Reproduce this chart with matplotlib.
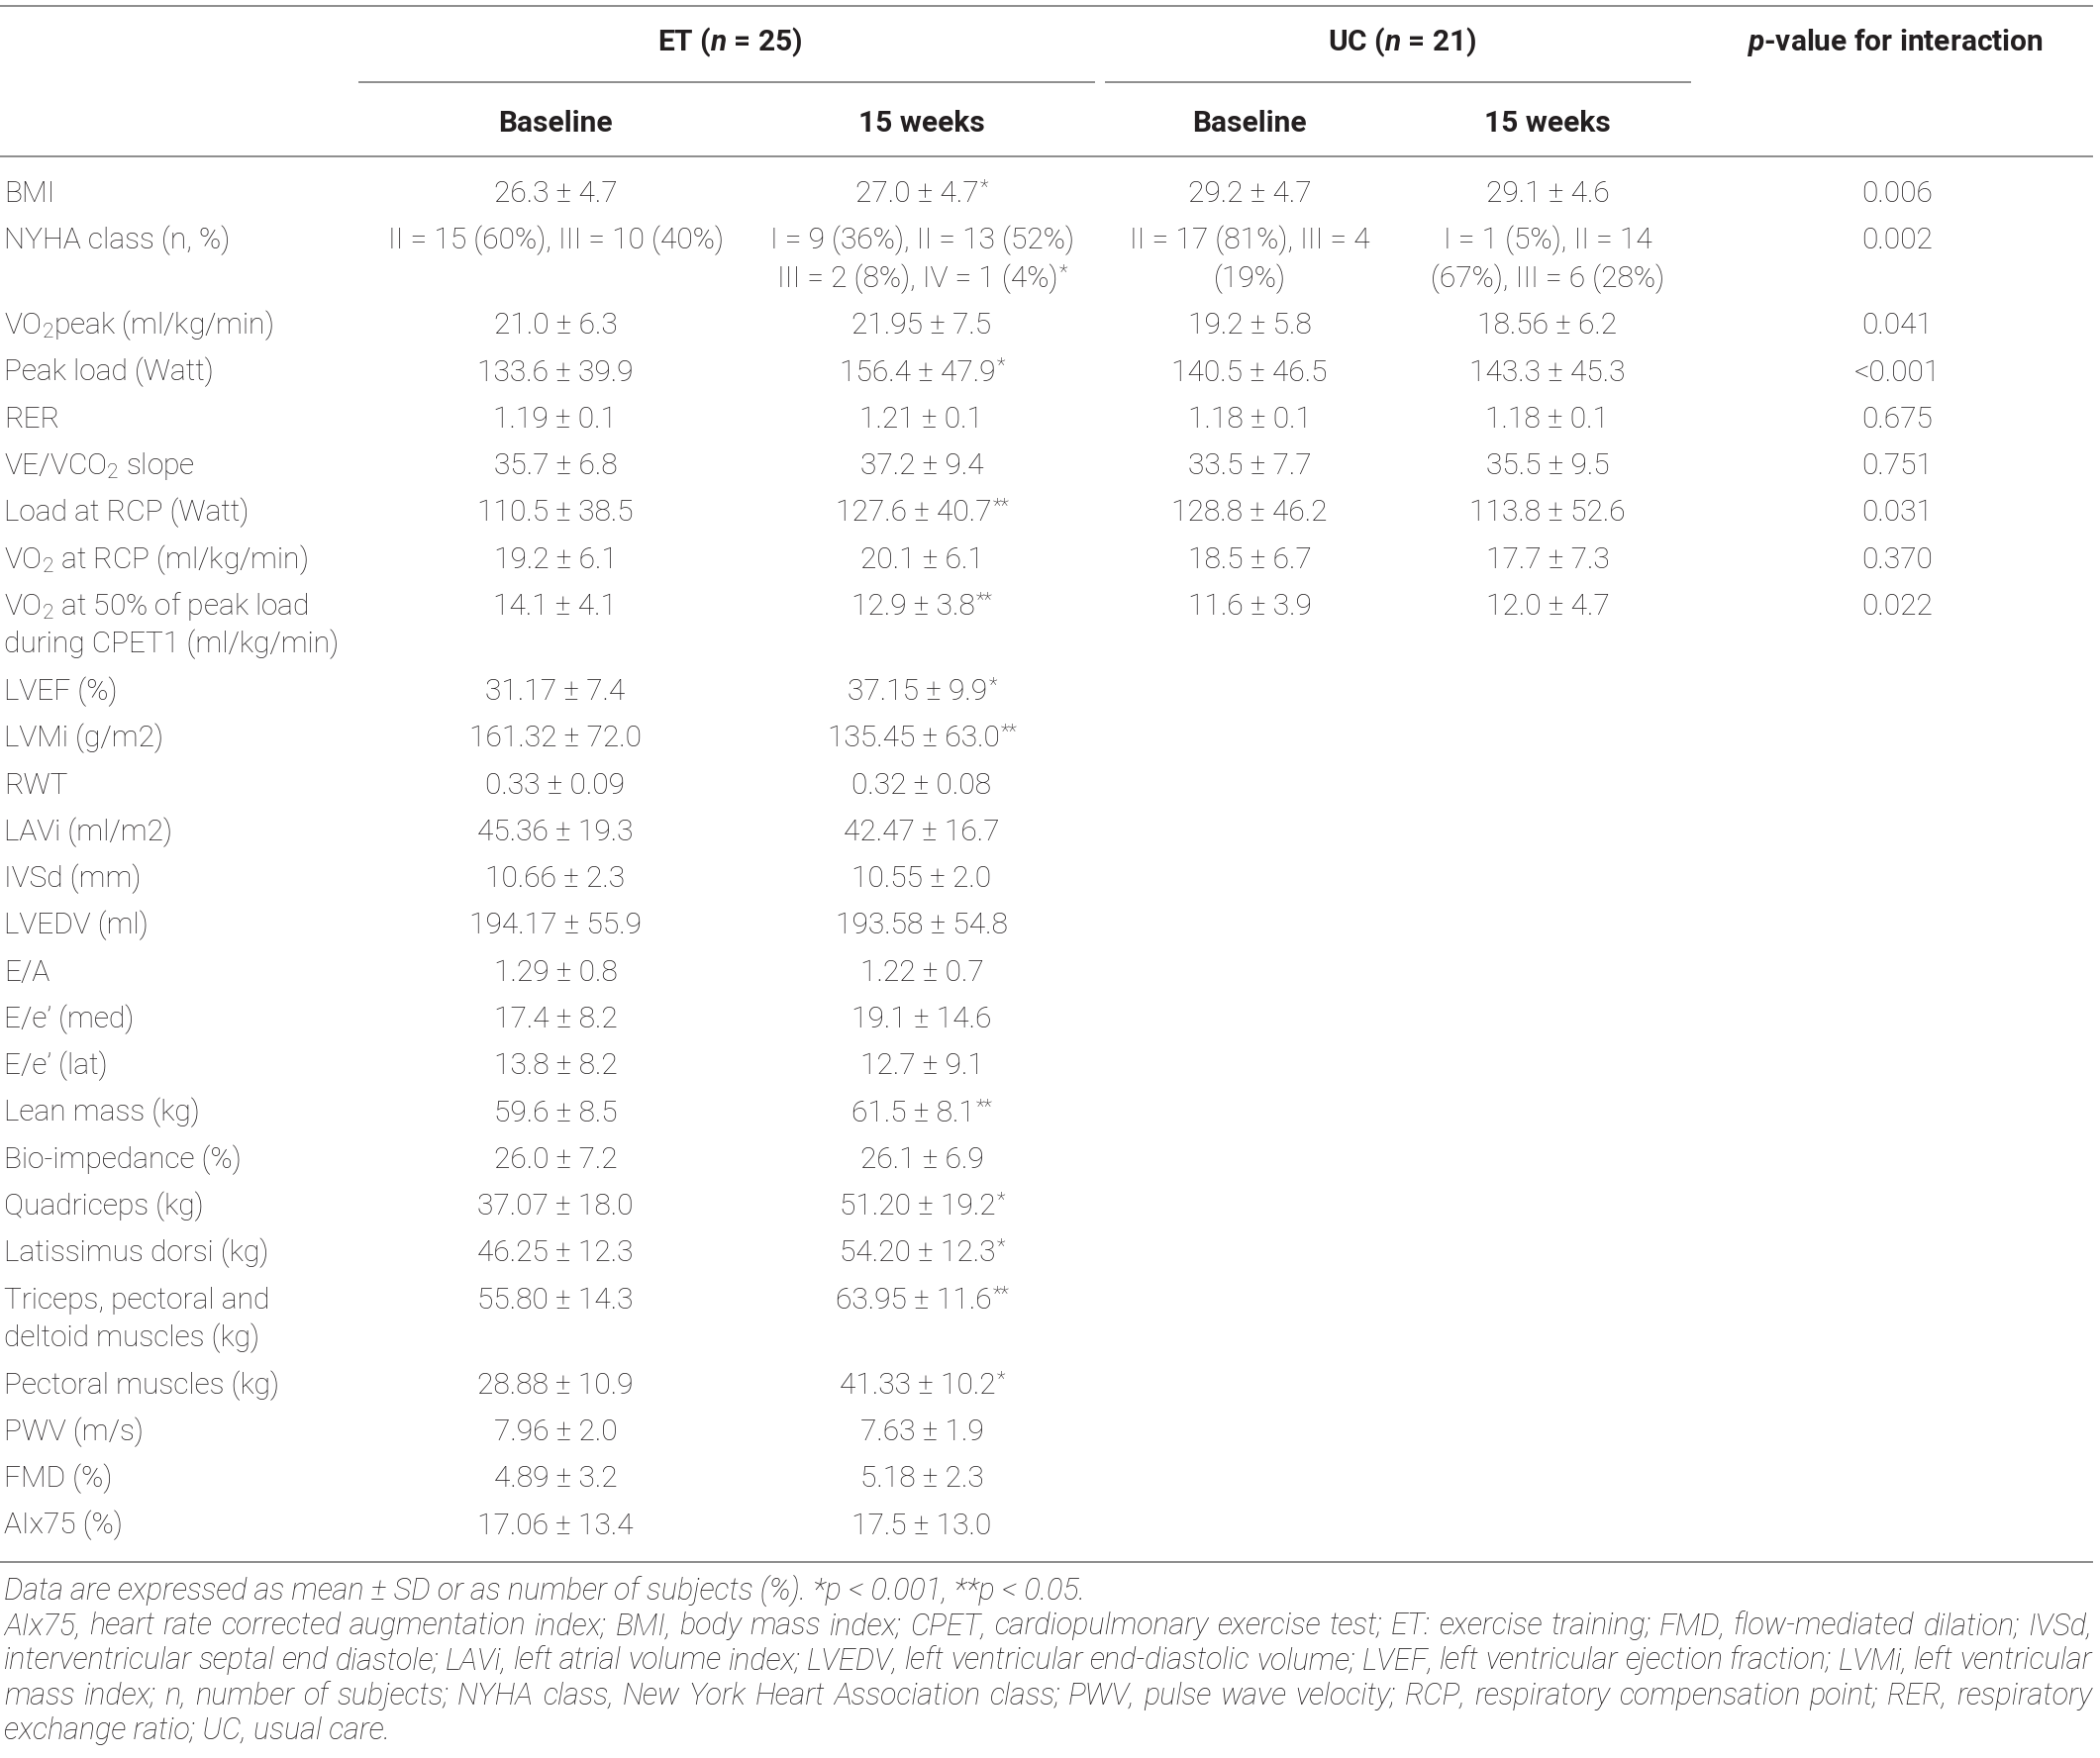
import matplotlib
matplotlib.use("Agg")
import matplotlib.pyplot as plt

plt.rcParams['font.family'] = ['Roboto', 'DejaVu Sans']
plt.rcParams['mathtext.fontset'] = 'custom'
plt.rcParams['mathtext.default'] = 'regular'
plt.rcParams['mathtext.rm'] = 'Roboto'
plt.rcParams['mathtext.it'] = 'Roboto:italic:bold'
plt.rcParams['mathtext.bf'] = 'Roboto:bold'

# ---- table contents ----
row_labels = [
    "BMI", "NYHA class (n, %)", "VO$_2$peak (ml/kg/min)", "Peak load (Watt)", "RER",
    "VE/VCO$_2$ slope", "Load at RCP (Watt)", "VO$_2$ at RCP (ml/kg/min)",
    "VO$_2$ at 50% of peak load\nduring CPET1 (ml/kg/min)", "LVEF (%)", "LVMi (g/m2)",
    "RWT", "LAVi (ml/m2)", "IVSd (mm)", "LVEDV (ml)", "E/A", "E/e’ (med)", "E/e’ (lat)",
    "Lean mass (kg)", "Bio-impedance (%)", "Quadriceps (kg)", "Latissimus dorsi (kg)",
    "Triceps, pectoral and\ndeltoid muscles (kg)", "Pectoral muscles (kg)", "PWV (m/s)",
    "FMD (%)", "AIx75 (%)",
]
et_baseline = [
    "26.3 ± 4.7", "II = 15 (60%), III = 10 (40%)", "21.0 ± 6.3", "133.6 ± 39.9",
    "1.19 ± 0.1", "35.7 ± 6.8", "110.5 ± 38.5", "19.2 ± 6.1", "14.1 ± 4.1",
    "31.17 ± 7.4", "161.32 ± 72.0", "0.33 ± 0.09", "45.36 ± 19.3", "10.66 ± 2.3",
    "194.17 ± 55.9", "1.29 ± 0.8", "17.4 ± 8.2", "13.8 ± 8.2", "59.6 ± 8.5",
    "26.0 ± 7.2", "37.07 ± 18.0", "46.25 ± 12.3", "55.80 ± 14.3", "28.88 ± 10.9",
    "7.96 ± 2.0", "4.89 ± 3.2", "17.06 ± 13.4",
]
et_15weeks = [
    "27.0 ± 4.7*", "I = 9 (36%), II = 13 (52%)\nIII = 2 (8%), IV = 1 (4%)*", "21.95 ± 7.5",
    "156.4 ± 47.9*", "1.21 ± 0.1", "37.2 ± 9.4", "127.6 ± 40.7**", "20.1 ± 6.1",
    "12.9 ± 3.8**", "37.15 ± 9.9*", "135.45 ± 63.0**", "0.32 ± 0.08", "42.47 ± 16.7",
    "10.55 ± 2.0", "193.58 ± 54.8", "1.22 ± 0.7", "19.1 ± 14.6", "12.7 ± 9.1",
    "61.5 ± 8.1**", "26.1 ± 6.9", "51.20 ± 19.2*", "54.20 ± 12.3*", "63.95 ± 11.6**",
    "41.33 ± 10.2*", "7.63 ± 1.9", "5.18 ± 2.3", "17.5 ± 13.0",
]
uc_baseline = [
    "29.2 ± 4.7", "II = 17 (81%), III = 4\n(19%)", "19.2 ± 5.8", "140.5 ± 46.5",
    "1.18 ± 0.1", "33.5 ± 7.7", "128.8 ± 46.2", "18.5 ± 6.7", "11.6 ± 3.9",
]
uc_15weeks = [
    "29.1 ± 4.6", "I = 1 (5%), II = 14\n(67%), III = 6 (28%)", "18.56 ± 6.2",
    "143.3 ± 45.3", "1.18 ± 0.1", "35.5 ± 9.5", "113.8 ± 52.6", "17.7 ± 7.3",
    "12.0 ± 4.7",
]
p_interaction = ["0.006", "0.002", "0.041", "<0.001", "0.675", "0.751", "0.031", "0.370", "0.022"]

group_headers = ["ET ($\\mathit{n}$ = 25)", "UC ($\\mathit{n}$ = 21)"]
sub_headers = ["Baseline", "15 weeks", "Baseline", "15 weeks"]
p_header = "$\\mathit{p}$-value for interaction"

footnote_first = "Data are expressed as mean ± SD or as number of subjects (%). *p < 0.001, **p < 0.05."
footnote_lines = [
    "AIx75, heart rate corrected augmentation index; BMI, body mass index; CPET, cardiopulmonary exercise test; ET: exercise training; FMD, flow-mediated dilation; IVSd,",
    "interventricular septal end diastole; LAVi, left atrial volume index; LVEDV, left ventricular end-diastolic volume; LVEF, left ventricular ejection fraction; LVMi, left ventricular",
    "mass index; n, number of subjects; NYHA class, New York Heart Association class; PWV, pulse wave velocity; RCP, respiratory compensation point; RER, respiratory",
    "exchange ratio; UC, usual care.",
]

# ---- layout (pixels) ----
W, H = 2121, 1776
TXT = '#231f20'
LINE = '#8c8c8c'
FS = 21.5
HFS = 21.5
FFS = 22
col_x = [561, 931, 1262, 1563, 1916]
label_x = 4
row_base0 = 204
row_pitch = 47.3
line_gap = 38.6

fig = plt.figure(figsize=(W / 100, H / 100), dpi=100)
ax = fig.add_axes([0, 0, 1, 1])
ax.set_xlim(0, W)
ax.set_ylim(H, 0)
ax.axis('off')
renderer = fig.canvas.get_renderer()


def width_of(t):
    return t.get_window_extent(renderer).width


def cell(x, y, s, ha='center'):
    for k, line in enumerate(s.split('\n')):
        yy = y + k * line_gap
        body = line.rstrip('*')
        stars = line[len(body):]
        t = ax.text(x, yy, body, ha='left', va='baseline', fontsize=FS,
                    fontweight='light', color=TXT)
        if ha == 'left':
            continue
        wb = width_of(t)
        ws = 0
        st = None
        if stars:
            # significance marks as small raised text
            st = ax.text(0, yy - 9, stars, ha='left', va='baseline', fontsize=FS * 0.68,
                         fontweight='light', color=TXT)
            ws = width_of(st)
        left = x - (wb + ws) / 2
        t.set_x(left)
        if st is not None:
            st.set_x(left + wb + 1)


# rules
for xs, yv in [([0, 2113], 6), ([363, 1105], 83), ([1117, 1707], 83),
               ([0, 2113], 158), ([0, 2113], 1578)]:
    ax.plot(xs, [yv, yv], color=LINE, lw=1.4)

# headers
ax.text(737, 51, group_headers[0], ha='center', va='baseline', fontsize=HFS, fontweight='bold', color=TXT)
ax.text(1416, 51, group_headers[1], ha='center', va='baseline', fontsize=HFS, fontweight='bold', color=TXT)
ax.text(1914, 51, p_header, ha='center', va='baseline', fontsize=HFS, fontweight='bold', color=TXT)
for x, s in zip(col_x[:4], sub_headers):
    ax.text(x, 133, s, ha='center', va='baseline', fontsize=HFS, fontweight='bold', color=TXT)

# body
y = row_base0
columns = [et_baseline, et_15weeks, uc_baseline, uc_15weeks, p_interaction]
for i, lab in enumerate(row_labels):
    cell(label_x, y, lab, ha='left')
    extra = lab.count('\n')
    for x, col in zip(col_x, columns):
        if i < len(col):
            cell(x, y, col[i])
            extra = max(extra, col[i].count('\n'))
    y += row_pitch + extra * line_gap

# footnotes (justified like the printed caption)
fy = 1616
fpitch = 35.2
fkw = dict(ha='left', va='baseline', fontsize=FFS, fontstyle='italic',
           fontweight='light', color=TXT)
ax.text(label_x, fy, footnote_first, **fkw)
for k, line in enumerate(footnote_lines):
    yy = fy + (k + 1) * fpitch
    if k == len(footnote_lines) - 1:
        ax.text(label_x, yy, line, **fkw)
        continue
    words = line.split(' ')
    texts = [ax.text(0, yy, w, **fkw) for w in words]
    widths = [width_of(t) for t in texts]
    gap = (2113 - label_x - sum(widths)) / (len(words) - 1)
    x = label_x
    for t, w in zip(texts, widths):
        t.set_x(x)
        x += w + gap

fig.savefig('out.png', dpi=100)
